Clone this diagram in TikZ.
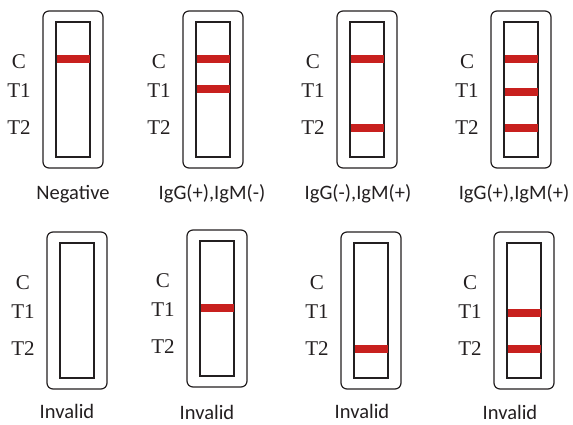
\documentclass[tikz,border=0pt]{standalone}
\usepackage{fontspec}
\setmainfont{Liberation Serif}
\newfontfamily\capfont{Carlito}
\usetikzlibrary{positioning}

\definecolor{bandred}{HTML}{C8201E}
\definecolor{edge}{HTML}{231F20}

\begin{document}
\begin{tikzpicture}[x=1pt,y=-1pt,
case/.style={draw=edge, line width=1.2pt, rounded corners=6pt, minimum width=60pt, minimum height=157pt, inner sep=0pt},
window/.style={draw=edge, line width=1.1pt, minimum width=34pt, minimum height=135pt, inner sep=0pt},
band/.style={fill=bandred, minimum width=33pt, minimum height=8.5pt, inner sep=0pt},
zone/.style={font=\fontsize{21}{21}\selectfont, inner sep=0pt, text=edge},
caption/.style={font=\capfont\fontsize{20.5}{20.5}\selectfont, anchor=base, inner sep=0pt, text=edge}
]
\useasboundingbox (0,0) rectangle (573,424);

% cassettes: number / left / top / caption x / caption baseline / caption
\foreach \i/\x/\y/\cx/\cy/\txt in {
  1/43/11/73/199/Negative,
  2/183/11/212/199/{IgG(+),IgM(-)},
  3/337/11/358/199/{IgG(-),IgM(+)},
  4/491/11/514/199/{IgG(+),IgM(+)},
  5/47/232/67/418/Invalid,
  6/187/230/207/419/Invalid,
  7/341/232/362/418/Invalid,
  8/494/232/510/419/Invalid}
{
  \node[case] (s\i) at (\x+30,\y+78.5) {};
  \node[window] (w\i) at (s\i.center) {};
  \node[zone] (C\i) at (\x-24,\y+51) {C};
  \node[zone] (Ta\i) at (\x-24,\y+80) {T1};
  \node[zone] (Tb\i) at (\x-24,\y+116.5) {T2};
  \node[caption] (cap\i) at (\cx,\cy) {\txt};
}

% coloured lines
\node[band, anchor=north, below=33pt of w1.north] (c1) {};
\node[band, anchor=north, below=33pt of w2.north] (c2) {};
\node[band, anchor=north, below=63pt of w2.north] (ta2) {};
\node[band, anchor=north, below=33pt of w3.north] (c3) {};
\node[band, anchor=north, below=102pt of w3.north] (tb3) {};
\node[band, anchor=north, below=33pt of w4.north] (c4) {};
\node[band, anchor=north, below=66pt of w4.north] (ta4) {};
\node[band, anchor=north, below=102pt of w4.north] (tb4) {};
\node[band, anchor=north, below=63pt of w6.north] (ta6) {};
\node[band, anchor=north, below=102pt of w7.north] (tb7) {};
\node[band, anchor=north, below=66pt of w8.north] (ta8) {};
\node[band, anchor=north, below=102pt of w8.north] (tb8) {};
\end{tikzpicture}
\end{document}
